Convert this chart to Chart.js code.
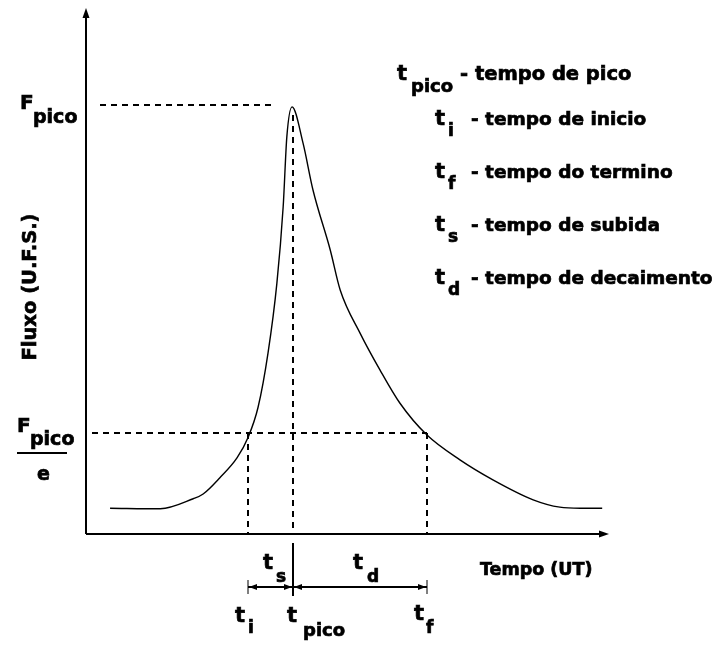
<!DOCTYPE html>
<html lang="pt">
<head>
    <meta charset="UTF-8">
    <title>Fluxo x Tempo</title>
    <script src="https://cdn.jsdelivr.net/npm/chart.js"></script>
    <style>
        body {
            margin: 0;
            background-color: #fff;
        }
        #wrap {
            width: 721px;
            height: 646px;
        }
    </style>
</head>
<body>
    <div id="wrap">
        <canvas id="fluxChart" width="721" height="646"></canvas>
    </div>

    <script>
        // curva do evento (tempo em unidades arbitrarias, fluxo em U.F.S. arbitrarias)
        const tempo = [4.6, 14.2, 20.5, 22.4, 25.6, 28.9, 31.0, 32.9, 34.8, 36.5, 37.7, 38.4, 39.4,
                       41.5, 43.4, 46.7, 48.6, 52.4, 56.2, 60.0, 65.2, 71.5, 77.8, 85.5, 90.6, 94.5, 98.7];
        const fluxo = [4.9, 4.8, 6.7, 7.6, 10.7, 14.5, 18.4, 24.1, 34.4, 47.7, 62.2, 75.5, 81.2,
                       74.3, 65.4, 54.0, 46.4, 38.2, 31.2, 24.9, 18.8, 14.1, 10.3, 6.5, 5.1, 4.9, 4.9];

        // marcas
        const tInicio = 31.0;
        const tPico = 39.4;
        const tFim = 65.2;
        const fPico = 81.2;
        const fPicoE = 19.2;

        // legenda
        const legendaSub = ['pico', 'i', 'f', 's', 'd'];
        const legendaTexto = ['- tempo de pico', '- tempo de inicio', '- tempo do termino',
                              '- tempo de subida', '- tempo de decaimento'];

        const FONT = '"DejaVu Sans", sans-serif';

        function arrowHead(ctx, x, y, dir, len, half) {
            // dir: 'up', 'right', 'left'
            ctx.beginPath();
            if (dir == 'up') {
                ctx.moveTo(x, y);
                ctx.lineTo(x - half, y + len);
                ctx.lineTo(x + half, y + len);
            } else if (dir == 'right') {
                ctx.moveTo(x, y);
                ctx.lineTo(x - len, y - half);
                ctx.lineTo(x - len, y + half);
            } else {
                ctx.moveTo(x, y);
                ctx.lineTo(x + len, y - half);
                ctx.lineTo(x + len, y + half);
            }
            ctx.closePath();
            ctx.fill();
        }

        function line(ctx, x1, y1, x2, y2, dash, width) {
            ctx.save();
            ctx.setLineDash(dash || []);
            ctx.lineWidth = width || 1.5;
            ctx.beginPath();
            ctx.moveTo(x1, y1);
            ctx.lineTo(x2, y2);
            ctx.stroke();
            ctx.restore();
        }

        // texto em negrito um pouco mais carregado, como no original
        function txt(ctx, s, x, y, size) {
            ctx.font = 'bold ' + size + 'px ' + FONT;
            ctx.lineWidth = 0.7;
            ctx.fillText(s, x, y);
            ctx.strokeText(s, x, y);
        }

        const annotations = {
            id: 'annotations',
            afterDraw(chart) {
                const ctx = chart.ctx;
                const xs = chart.scales.x;
                const ys = chart.scales.y;
                const px = v => Math.round(xs.getPixelForValue(v));
                const py = v => Math.round(ys.getPixelForValue(v));
                const left = chart.chartArea.left;
                const bottom = chart.chartArea.bottom;

                ctx.save();
                ctx.strokeStyle = '#000';
                ctx.fillStyle = '#000';
                ctx.textBaseline = 'alphabetic';
                ctx.textAlign = 'left';

                // eixos
                line(ctx, left, bottom, left, chart.chartArea.top + 6, [], 2);
                arrowHead(ctx, left, chart.chartArea.top, 'up', 10, 3.5);
                line(ctx, left, bottom, chart.chartArea.right - 6, bottom, [], 2);
                arrowHead(ctx, chart.chartArea.right, bottom, 'right', 10, 3.5);

                // linhas tracejadas
                const dash = [6, 5];
                line(ctx, left + 14, py(fPico) - 2, px(tPico) - 20, py(fPico) - 2, dash, 2);
                line(ctx, left + 6, py(fPicoE), px(tFim), py(fPicoE), dash, 2);
                line(ctx, px(tInicio), py(fPicoE), px(tInicio), bottom, dash, 2);
                line(ctx, px(tPico) + 1, py(fPico) + 8, px(tPico) + 1, bottom, dash, 2);
                line(ctx, px(tFim), py(fPicoE), px(tFim), bottom, dash, 2);

                // intervalos t_s e t_d
                const yArr = bottom + 53;
                line(ctx, px(tPico) + 1, bottom + 9, px(tPico) + 1, bottom + 62, [], 2);
                line(ctx, px(tInicio), bottom + 46, px(tInicio), bottom + 60, [], 1);
                line(ctx, px(tFim), bottom + 46, px(tFim), bottom + 60, [], 1);
                line(ctx, px(tInicio), yArr, px(tFim), yArr, [], 2);
                arrowHead(ctx, px(tInicio) + 1, yArr, 'left', 8, 3);
                arrowHead(ctx, px(tPico), yArr, 'right', 8, 3);
                arrowHead(ctx, px(tPico) + 2, yArr, 'left', 8, 3);
                arrowHead(ctx, px(tFim) - 1, yArr, 'right', 8, 3);

                txt(ctx, 't', px(tInicio) + 15, bottom + 35, 21);
                txt(ctx, 's', px(tInicio) + 28, bottom + 48, 17);
                txt(ctx, 't', px(tPico) + 61, bottom + 35, 21);
                txt(ctx, 'd', px(tPico) + 75, bottom + 48, 17);

                // rotulos no eixo do tempo
                txt(ctx, 't', px(tInicio) - 13, bottom + 88, 21);
                txt(ctx, 'i', px(tInicio) + 0, bottom + 99, 17);
                txt(ctx, 't', px(tPico) - 5, bottom + 88, 21);
                txt(ctx, 'pico', px(tPico) + 11, bottom + 102, 18);
                txt(ctx, 't', px(tFim) - 13, bottom + 86, 21);
                txt(ctx, 'f', px(tFim) - 1, bottom + 99, 17);
                txt(ctx, 'Tempo (UT)', 480, 575, 17.5);

                // rotulos no eixo do fluxo
                txt(ctx, 'F', 20, py(fPico) + 2, 20);
                txt(ctx, 'pico', 33, py(fPico) + 16, 19);
                txt(ctx, 'F', 17, py(fPicoE) - 1, 20);
                txt(ctx, 'pico', 30, py(fPicoE) + 12, 19);
                line(ctx, 17, py(fPicoE) + 20, 67, py(fPicoE) + 20, [], 2);
                txt(ctx, 'e', 37, py(fPicoE) + 47, 19);

                ctx.save();
                ctx.translate(36, 287);
                ctx.rotate(-Math.PI / 2);
                ctx.textAlign = 'center';
                txt(ctx, 'Fluxo (U.F.S.)', 0, 0, 19.5);
                ctx.restore();

                // legenda
                txt(ctx, 't', 397, 80, 21);
                txt(ctx, legendaSub[0], 411, 92, 18);
                txt(ctx, legendaTexto[0], 460, 80, 19.5);
                const base = [125, 178, 231, 284];
                for (let i = 1; i < legendaSub.length; i++) {
                    const y = base[i - 1];
                    txt(ctx, 't', 435, y, 21);
                    txt(ctx, legendaSub[i], 448, y + 11, 17);
                    txt(ctx, legendaTexto[i], 471, y, 18.5);
                }

                ctx.restore();
            }
        };

        const points = tempo.map((t, i) => ({ x: t, y: fluxo[i] }));

        const config = {
            type: 'line',
            data: {
                datasets: [{
                    label: 'Fluxo',
                    data: points,
                    borderColor: '#000',
                    borderWidth: 1.4,
                    pointRadius: 0,
                    cubicInterpolationMode: 'monotone',
                    fill: false
                }]
            },
            options: {
                responsive: false,
                animation: false,
                layout: {
                    padding: { left: 86, right: 112, top: 8, bottom: 112 }
                },
                plugins: {
                    legend: { display: false },
                    tooltip: { enabled: false }
                },
                scales: {
                    x: { type: 'linear', min: 0, max: 100, display: false },
                    y: { type: 'linear', min: 0, max: 100, display: false }
                }
            },
            plugins: [annotations]
        };

        const ctx = document.getElementById('fluxChart').getContext('2d');
        const fluxChart = new Chart(ctx, config);
    </script>
</body>
</html>
